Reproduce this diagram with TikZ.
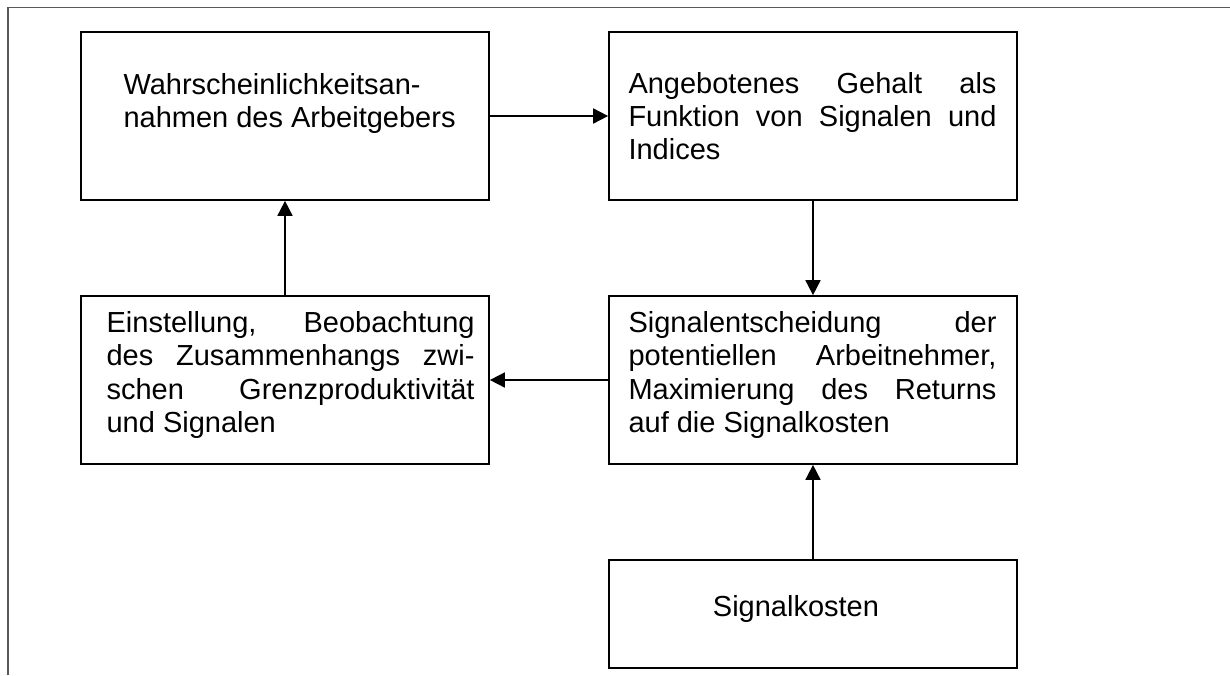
\documentclass[tikz,border=0pt]{standalone}
\usepackage{fontspec}
\setmainfont{Liberation Sans}
\usetikzlibrary{arrows.meta}
\newcommand{\jline}[1]{\makebox[368pt][s]{#1}}
\begin{document}
\begin{tikzpicture}[x=1pt,y=-1pt,
  box/.style={draw=black,line width=1.7pt,minimum width=408pt,inner sep=0pt},
  tall/.style={box,minimum height=168pt},
  low/.style={box,minimum height=108pt},
  txt/.style={anchor=base west,inner sep=0pt,font=\fontsize{29}{33.2}\selectfont},
  conn/.style={line width=1.7pt,-{Triangle[length=15pt,width=15pt]}},
  frame/.style={line width=1.2pt,draw=black!65}]
\useasboundingbox (0,0) rectangle (1230,675);
\draw[frame] (8,675) -- (8,7.5) -- (1230,7.5);

\node[tall] (A) at (285,116) {};
\node[tall] (B) at (813,116) {};
\node[tall] (C) at (285,380) {};
\node[tall] (D) at (813,380) {};
\node[low]  (E) at (813,614) {};

\node[txt] (tA) at (123.3,94) {\vtop{\hbox{Wahrscheinlichkeitsan-}\hbox{nahmen des Arbeitgebers}}};
\node[txt] (tB) at (628.3,93.5) {\vtop{\hbox{\jline{Angebotenes Gehalt als}}\hbox{\jline{Funktion von Signalen und}}\hbox{Indices}}};
\node[txt] (tC) at (106.4,332.7) {\vtop{\hbox{\jline{Einstellung, Beobachtung}}\hbox{\jline{des Zusammenhangs zwi-}}\hbox{\jline{schen Grenzproduktivität}}\hbox{und Signalen}}};
\node[txt] (tD) at (628.3,332.7) {\vtop{\hbox{\jline{Signalentscheidung der}}\hbox{\jline{potentiellen Arbeitnehmer,}}\hbox{\jline{Maximierung des Returns}}\hbox{auf die Signalkosten}}};
\node[txt] (tE) at (712.7,616.7) {Signalkosten};

\draw[conn] (A.east) -- (B.west);
\draw[conn] (B.south) -- (D.north);
\draw[conn] (D.west) -- (C.east);
\draw[conn] (C.north) -- (A.south);
\draw[conn] (E.north) -- (D.south);
\end{tikzpicture}
\end{document}
